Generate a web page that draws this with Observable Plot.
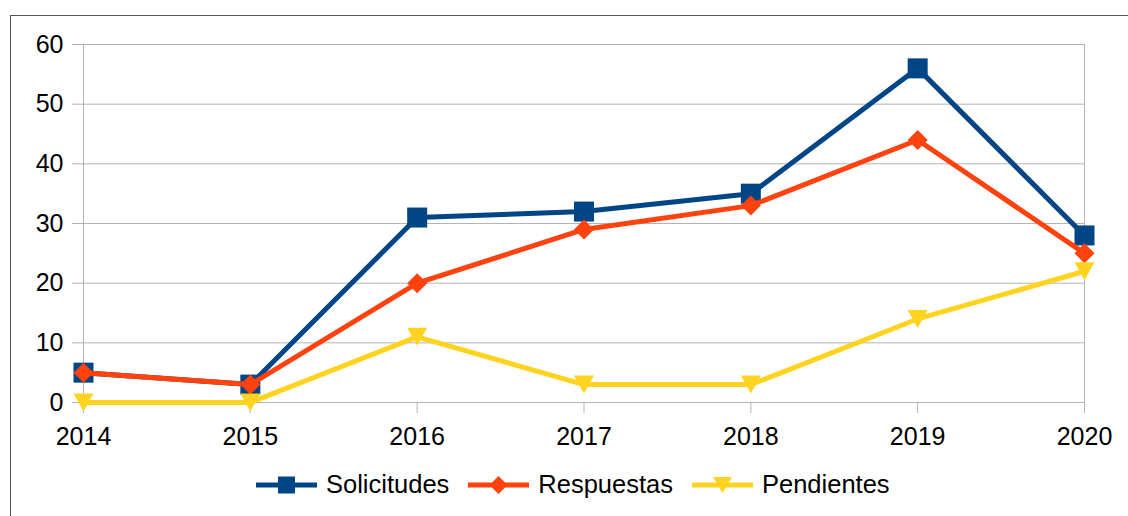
<!DOCTYPE html>
<html>
<head>
<meta charset="utf-8">
<script src="https://cdn.jsdelivr.net/npm/d3@7"></script>
<script src="https://cdn.jsdelivr.net/npm/@observablehq/plot@0.6"></script>
<style>
  html, body { margin: 0; padding: 0; background: #fff; overflow: hidden; }
  #wrap { position: relative; width: 1128px; height: 516px; font-family: "Liberation Sans", Arial, sans-serif; }
  #frame { position: absolute; left: 10px; top: 15px; width: 1200px; height: 600px; border-left: 1px solid #555; border-top: 1px solid #555; pointer-events: none; }
  #legend { position: absolute; left: 256px; top: 470px; display: flex; align-items: center; font-size: 25.5px; color: #000; }
  .item { display: flex; align-items: center; margin-right: 19px; }
  .item svg { margin-right: 9px; }
</style>
</head>
<body>
<div id="wrap">
  <div id="chart"></div>
  <div id="frame"></div>
  <div id="legend"></div>
</div>
<script>
const years = [2014, 2015, 2016, 2017, 2018, 2019, 2020];
const solicitudes = [5, 3, 31, 32, 35, 56, 28];
const respuestas = [5, 3, 20, 29, 33, 44, 25];
const pendientes = [0, 0, 11, 3, 3, 14, 22];
const seriesNames = ["Solicitudes", "Respuestas", "Pendientes"];
const seriesColors = ["#004586", "#ff420e", "#ffd320"];
const yTicks = [0, 10, 20, 30, 40, 50, 60];

const squareSym = { draw(ctx, size) { const r = Math.sqrt(size / Math.PI); ctx.moveTo(-r, -r); ctx.lineTo(r, -r); ctx.lineTo(r, r); ctx.lineTo(-r, r); ctx.closePath(); } };
const diamondSym = { draw(ctx, size) { const r = Math.sqrt(size / Math.PI); ctx.moveTo(0, -r); ctx.lineTo(r, 0); ctx.lineTo(0, r); ctx.lineTo(-r, 0); ctx.closePath(); } };
const triSym = { draw(ctx, size) { const r = Math.sqrt(size / Math.PI); ctx.moveTo(-r, -0.9 * r); ctx.lineTo(r, -0.9 * r); ctx.lineTo(0, 0.9 * r); ctx.closePath(); } };
const symbols = [squareSym, diamondSym, triSym];
const radii = [10, 10, 10];

const values = [solicitudes, respuestas, pendientes];
const data = seriesNames.map((name, i) => years.map((y, j) => ({ year: y, value: values[i][j], series: name })));

const marks = [
  Plot.gridY(yTicks, { stroke: "#b3b3b3", strokeOpacity: 1, strokeWidth: 1 }),
  Plot.ruleX([2014, 2020], { y1: 0, y2: 60, stroke: "#b3b3b3", strokeWidth: 1 }),
  Plot.axisY({ ticks: yTicks, tickSize: 11, tickPadding: 9, stroke: "#b3b3b3", fill: "#000", fontSize: 25, label: null }),
  Plot.axisX({ ticks: years, tickFormat: d3.format("d"), tickSize: 11, tickPadding: 14, stroke: "#b3b3b3", fill: "#000", fontSize: 25, label: null })
];
data.forEach((d, i) => {
  marks.push(Plot.line(d, { x: "year", y: "value", stroke: seriesColors[i], strokeWidth: 5, strokeLinejoin: "round", strokeLinecap: "round" }));
  marks.push(Plot.dot(d, { x: "year", y: "value", symbol: symbols[i], r: radii[i], fill: seriesColors[i], stroke: "none" }));
});

const chart = Plot.plot({
  width: 1128,
  height: 516,
  marginLeft: 83,
  marginRight: 44,
  marginTop: 44,
  marginBottom: 114,
  style: { fontFamily: "Liberation Sans, Arial, sans-serif", fontSize: "25px", background: "#fff", color: "#000" },
  x: { domain: [2014, 2020] },
  y: { domain: [0, 60] },
  marks
});
document.getElementById("chart").appendChild(chart);

// Legend
const legend = document.getElementById("legend");
const legendPaths = [
  "M22,-8.5H39V8.5H22Z",
  "M30.5,-9L39.5,0L30.5,9L21.5,0Z",
  "M21,-8H40L30.5,8Z"
];
seriesNames.forEach((name, i) => {
  const item = document.createElement("div");
  item.className = "item";
  item.innerHTML = `<svg width="61" height="22" viewBox="0 -11 61 22"><line x1="0" x2="61" y1="0" y2="0" stroke="${seriesColors[i]}" stroke-width="5"/><path d="${legendPaths[i]}" fill="${seriesColors[i]}"/></svg><span>${name}</span>`;
  legend.appendChild(item);
});
</script>
</body>
</html>
